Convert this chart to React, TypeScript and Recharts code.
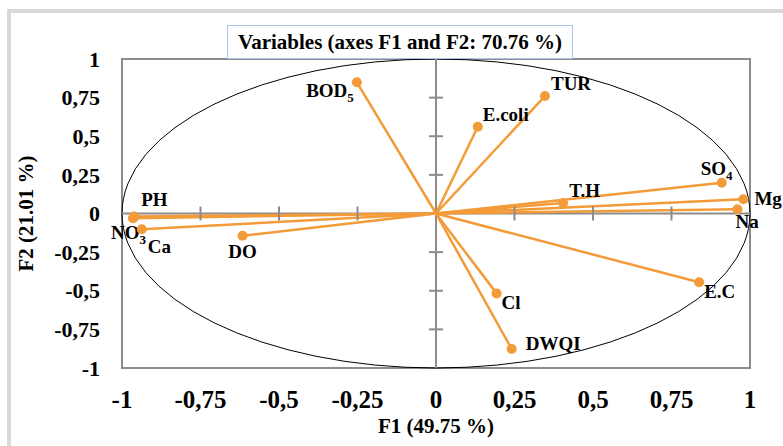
import { ReferenceArea, ReferenceDot, ReferenceLine, Scatter, ScatterChart, XAxis, YAxis } from 'recharts'

const NAMES = ['BOD5', 'TUR', 'E.coli', 'SO4', 'Mg', 'T.H', 'Na', 'PH', 'NO3', 'Ca', 'DO', 'E.C', 'Cl', 'DWQI']
const F1 = [-0.252, 0.347, 0.133, 0.91, 0.979, 0.405, 0.96, -0.961, -0.965, -0.937, -0.616, 0.838, 0.193, 0.241]
const F2 = [0.849, 0.76, 0.562, 0.199, 0.092, 0.068, 0.027, -0.02, -0.03, -0.102, -0.144, -0.445, -0.517, -0.877]

const TICKS = [-1, -0.75, -0.5, -0.25, 0, 0.25, 0.5, 0.75, 1]
const TICK_LABELS = ['-1', '-0,75', '-0,5', '-0,25', '0', '0,25', '0,5', '0,75', '1']
const MINOR_TICKS = [-0.75, -0.5, -0.25, 0.25, 0.5, 0.75]

const ORANGE = '#F39B38'
const GRAY = '#8c8c8c'
const FONT = '"Liberation Serif", "Times New Roman", serif'

// label placement relative to each point (px)
const LABEL_POS: Record<string, { dx: number; dy: number; anchor: 'start' | 'middle' | 'end' }> = {
  BOD5: { dx: -3, dy: 8, anchor: 'end' },
  TUR: { dx: 6, dy: -13, anchor: 'start' },
  'E.coli': { dx: 5, dy: -12, anchor: 'start' },
  SO4: { dx: -21, dy: -14, anchor: 'start' },
  Mg: { dx: 11, dy: -1, anchor: 'start' },
  'T.H': { dx: 6, dy: -13, anchor: 'start' },
  Na: { dx: -2, dy: 12, anchor: 'start' },
  PH: { dx: 7, dy: -17, anchor: 'start' },
  NO3: { dx: 13, dy: 14, anchor: 'end' },
  Ca: { dx: 6, dy: 17, anchor: 'start' },
  DO: { dx: 0, dy: 16, anchor: 'middle' },
  'E.C': { dx: 5, dy: 9, anchor: 'start' },
  Cl: { dx: 5, dy: 9, anchor: 'start' },
  DWQI: { dx: 14, dy: -6, anchor: 'start' },
}

const data = NAMES.map((name, i) => ({ name, x: F1[i], y: F2[i] }))

const fmt = (v: number) => TICK_LABELS[TICKS.indexOf(v)] ?? String(v)

function VarLabel({ name, cx, cy }: { name: string; cx: number; cy: number }) {
  const pos = LABEL_POS[name] ?? { dx: 5, dy: -10, anchor: 'start' }
  const m = name.match(/^([A-Z]+)(\d)$/)
  return (
    <text
      x={cx + pos.dx}
      y={cy + pos.dy}
      dy="0.35em"
      textAnchor={pos.anchor}
      fontFamily={FONT}
      fontWeight="bold"
      fontSize={19}
      fill="#000"
    >
      {m ? (
        <>
          {m[1]}
          <tspan fontSize={13} dy={5}>
            {m[2]}
          </tspan>
        </>
      ) : (
        name
      )}
    </text>
  )
}

function VarDot(props: any) {
  const { cx, cy, payload } = props
  return (
    <g>
      <circle cx={cx} cy={cy} r={5} fill={ORANGE} />
      <VarLabel name={payload.name} cx={cx} cy={cy} />
    </g>
  )
}

function XTick(props: any) {
  const { x, y, payload } = props
  return (
    <text x={x} y={y + 40} textAnchor="middle" fontFamily={FONT} fontWeight="bold" fontSize={25} fill="#000">
      {fmt(payload.value)}
    </text>
  )
}

function YTick(props: any) {
  const { x, y, payload } = props
  return (
    <text x={x - 22} y={y} dy="0.35em" textAnchor="end" fontFamily={FONT} fontWeight="bold" fontSize={22} fill="#000">
      {fmt(payload.value)}
    </text>
  )
}

function CircleAndFrame(props: any) {
  const { x, y, width, height } = props
  return (
    <g>
      <rect x={x} y={y} width={width} height={height} fill="none" stroke={GRAY} strokeWidth={2} />
      <ellipse
        cx={x + width / 2}
        cy={y + height / 2}
        rx={width / 2}
        ry={height / 2}
        fill="none"
        stroke="#000"
        strokeWidth={1}
      />
    </g>
  )
}

export default function App() {
  return (
    <div style={{ position: 'absolute', left: 0, top: 0, width: 783, height: 446, overflow: 'hidden', background: '#fff' }}>
      <div
        style={{
          position: 'absolute',
          left: 7,
          top: 9,
          width: 900,
          height: 600,
          border: '4px solid #d9d9d9',
        }}
      />
      <div style={{ position: 'absolute', left: 0, top: 0 }}>
        <ScatterChart width={783} height={446} margin={{ top: 59, right: 33, bottom: 0, left: 0 }}>
          <XAxis
            type="number"
            dataKey="x"
            domain={[-1, 1]}
            ticks={TICKS}
            height={78}
            axisLine={false}
            tickLine={false}
            tickSize={0}
            tickMargin={0}
            tick={<XTick />}
            label={{
              value: 'F1 (49.75 %)',
              position: 'insideBottom',
              offset: 13,
              style: { fontFamily: FONT, fontWeight: 'bold', fontSize: 21, fill: '#000' },
            }}
          />
          <YAxis
            type="number"
            dataKey="y"
            domain={[-1, 1]}
            ticks={TICKS}
            width={122}
            axisLine={false}
            tickLine={false}
            tickSize={0}
            tickMargin={0}
            tick={<YTick />}
            label={{
              value: 'F2 (21.01 %)',
              angle: -90,
              position: 'insideLeft',
              offset: 26,
              style: { textAnchor: 'middle', fontFamily: FONT, fontWeight: 'bold', fontSize: 21, fill: '#000' },
            }}
          />
          <ReferenceArea x1={-1} x2={1} y1={-1} y2={1} shape={<CircleAndFrame />} />
          <ReferenceLine x={0} stroke={GRAY} strokeWidth={2} />
          <ReferenceLine y={0} stroke={GRAY} strokeWidth={2} />
          {MINOR_TICKS.map((t) => (
            <ReferenceDot
              key={`xt${t}`}
              x={t}
              y={0}
              r={0}
              shape={(p: any) => <line x1={p.cx} x2={p.cx} y1={p.cy - 7} y2={p.cy + 7} stroke={GRAY} strokeWidth={2} />}
            />
          ))}
          {MINOR_TICKS.map((t) => (
            <ReferenceDot
              key={`yt${t}`}
              x={0}
              y={t}
              r={0}
              shape={(p: any) => <line x1={p.cx - 7} x2={p.cx + 7} y1={p.cy} y2={p.cy} stroke={GRAY} strokeWidth={2} />}
            />
          ))}
          {data.map((d) => (
            <ReferenceLine
              key={`v${d.name}`}
              segment={[
                { x: 0, y: 0 },
                { x: d.x, y: d.y },
              ]}
              stroke={ORANGE}
              strokeWidth={2.5}
            />
          ))}
          <Scatter data={data} fill={ORANGE} shape={<VarDot />} isAnimationActive={false} />
        </ScatterChart>
      </div>
      <div
        style={{
          position: 'absolute',
          left: 227,
          top: 25,
          width: 344,
          height: 32,
          border: '1px solid #a9c4eb',
          background: '#fff',
          fontFamily: FONT,
          fontWeight: 'bold',
          fontSize: 21,
          lineHeight: '33px',
          textAlign: 'center',
          color: '#000',
          whiteSpace: 'nowrap',
        }}
      >
        Variables (axes F1 and F2: 70.76 %)
      </div>
    </div>
  )
}
